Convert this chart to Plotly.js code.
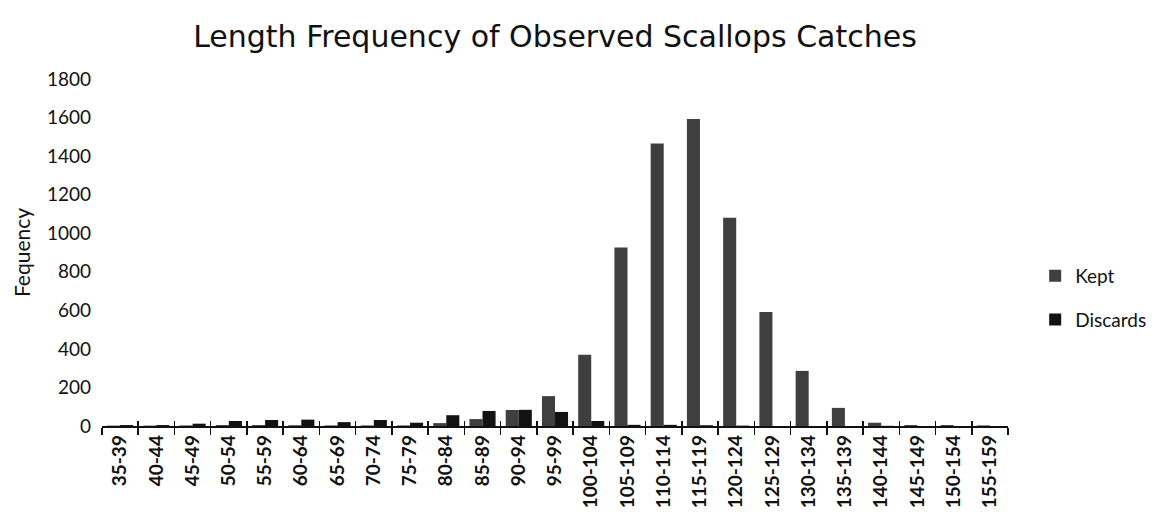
<!DOCTYPE html>
<html>
<head>
<meta charset="utf-8">
<script src="https://cdn.plot.ly/plotly-3.0.1.min.js"></script>
<style>html,body{margin:0;padding:0;background:#fff;}#chart{width:1154px;height:527px;}</style>
</head>
<body>
<div id="chart"></div>
<script>
const categories = ["35-39","40-44","45-49","50-54","55-59","60-64","65-69","70-74","75-79","80-84","85-89","90-94","95-99","100-104","105-109","110-114","115-119","120-124","125-129","130-134","135-139","140-144","145-149","150-154","155-159"];
const kept =     [2, 2, 3, 5, 5, 4, 3, 3, 3, 15, 36, 83, 155, 370, 926, 1465, 1592, 1080, 592, 286, 94, 17, 5, 5, 3];
const discards = [5, 5, 12, 26, 31, 33, 20, 31, 17, 56, 78, 84, 73, 26, 6, 6, 4, 2, 0, 0, 0, 1, 0, 0, 0];
const yTicks = [0,200,400,600,800,1000,1200,1400,1600,1800];

const font = "Lato, 'Open Sans', sans-serif";
const data = [
  {type:"bar", name:"Kept", legendgroup:"k", x:categories, y:kept, marker:{color:"#3f3f3f"}},
  {type:"bar", name:"Discards", legendgroup:"d", x:categories, y:discards, marker:{color:"#121212"}},
  {type:"bar", x:categories, y:kept.map(()=>0), xaxis:"x2", showlegend:false, hoverinfo:"skip", marker:{color:"rgba(0,0,0,0)"}}
];
const layout = {
  width:1154, height:527,
  margin:{l:102, r:146, t:79, b:101, autoexpand:false},
  paper_bgcolor:"#fff", plot_bgcolor:"#fff",
  barmode:"group", bargap:0.28, bargroupgap:0,
  title:{text:"Length Frequency of Observed Scallops Catches", x:0.5, xref:"paper", xanchor:"center", y:0.93, yref:"container", yanchor:"middle", font:{family:"'DejaVu Sans', sans-serif", size:30, color:"#111"}},
  font:{family:font, color:"#111"},
  xaxis:{type:"category", showline:true, linecolor:"#111", linewidth:1.5, ticks:"outside", tickson:"boundaries", ticklen:7, tickcolor:"#111", tickwidth:1.5, tickangle:-90, tickfont:{family:font, size:19, color:"#111", weight:"bold"}, showgrid:false, zeroline:false},
  xaxis2:{type:"category", overlaying:"x", matches:"x", ticks:"inside", tickson:"boundaries", ticklen:5, tickcolor:"#111", tickwidth:1.5, showticklabels:false, showgrid:false, zeroline:false, showline:false},
  yaxis:{range:[0,1800], tickvals:yTicks, ticktext:yTicks.map(String), showgrid:false, zeroline:false, showline:false, ticks:"", ticklen:0, tickfont:{family:font, size:19, color:"#111"}, ticklabelstandoff:10,
    title:{text:"Fequency", font:{family:font, size:21, color:"#111"}, standoff:10}},
  legend:{x:1.03, xanchor:"left", y:0.369, yanchor:"middle", font:{family:font, size:19, color:"#111"}, tracegroupgap:16, itemwidth:30, traceorder:"grouped"},
  showlegend:true
};
Plotly.newPlot("chart", data, layout, {displayModeBar:false, staticPlot:true});
</script>
</body>
</html>
